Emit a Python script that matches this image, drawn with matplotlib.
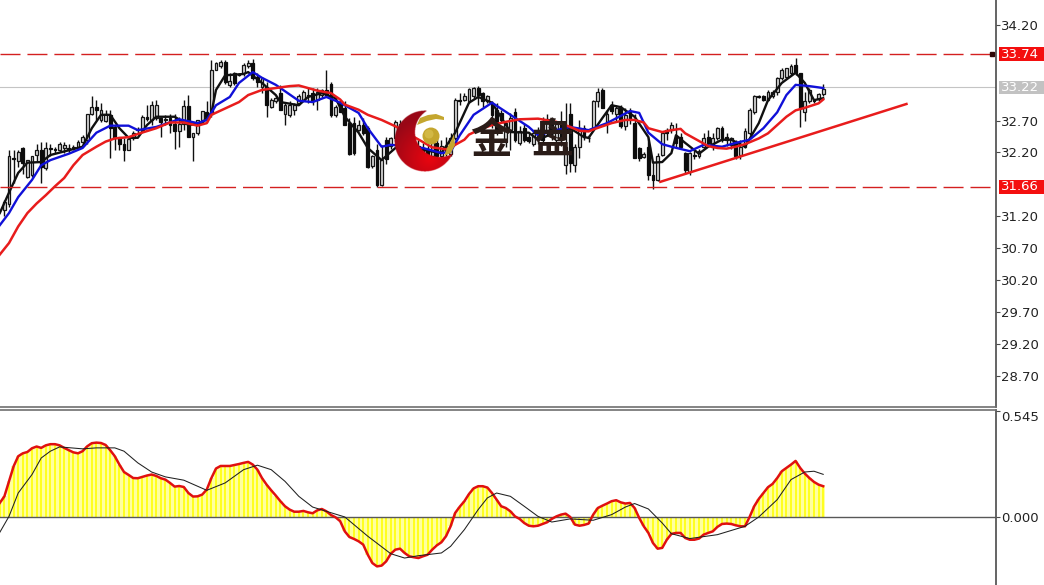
# Gold chart with moving averages and a MACD panel below it.

import matplotlib
matplotlib.use("Agg")
import matplotlib.pyplot as plt
import numpy as np
from matplotlib.patches import Circle, Polygon, Rectangle
from matplotlib.transforms import blended_transform_factory

WIDTH, HEIGHT = 1044, 585
AXIS_X = 996
BAR_PX = 4.6
FIRST_BAR_PX = 4.4

opens = [
    31.30, 31.40, 32.12, 32.06, 32.27, 31.82, 31.85, 32.16, 32.24, 31.95,
    32.27, 32.25, 32.24, 32.27, 32.27, 32.27, 32.29, 32.37, 32.40, 32.81,
    32.91, 32.71, 32.70, 32.79, 32.60, 32.44, 32.34, 32.24, 32.42, 32.55,
    32.55, 32.76, 32.71, 32.74, 32.74, 32.71, 32.74, 32.65, 32.53, 32.65,
    32.93, 32.44, 32.50, 32.71, 32.84, 32.81, 33.49, 33.55, 33.62, 33.26,
    33.44, 33.43, 33.44, 33.55, 33.61, 33.39, 33.23, 33.23, 32.92, 33.00,
    33.13, 32.81, 32.79, 32.87, 32.97, 33.02, 33.10, 33.13, 33.02, 33.10,
    33.18, 33.28, 32.79, 32.97, 32.89, 32.66, 32.66, 32.55, 32.63, 32.58,
    31.99, 32.24, 31.69, 32.40, 32.30, 32.42, 32.65, 32.30, 32.45, 32.15,
    32.30, 32.10, 32.25, 32.15, 32.35, 32.15, 32.30, 32.18, 32.42, 33.02,
    33.02, 33.00, 33.08, 33.21, 33.13, 33.00, 32.97, 32.87, 32.82, 32.37,
    32.55, 32.84, 32.35, 32.58, 32.45, 32.33, 32.40, 32.70, 32.52, 32.70,
    32.40, 32.70, 32.00,
    32.81, 32.00, 32.29, 32.58, 32.43, 32.58, 33.00, 33.18, 32.68, 32.95,
    32.80, 32.89, 32.61, 32.85, 32.66, 32.27, 32.13, 32.29, 31.85, 31.77,
    32.16, 32.55, 32.55, 32.45, 32.45, 32.19, 31.90, 32.16, 32.15, 32.29,
    32.45, 32.29, 32.42, 32.58, 32.45, 32.32, 32.35, 32.16, 32.29, 32.50,
    32.84, 33.09, 33.08, 33.02, 33.08, 33.15, 33.36, 33.39, 33.44, 33.57,
    33.44, 32.84, 33.00, 33.02, 33.04, 33.12,
]
closes = [
    31.43, 32.14, 32.10, 32.21, 32.03, 32.08, 32.14, 32.24, 31.98, 32.27,
    32.25, 32.24, 32.33, 32.32, 32.24, 32.29, 32.37, 32.44, 32.81, 32.92,
    32.87, 32.87, 32.81, 32.58, 32.43, 32.34, 32.24, 32.41, 32.50, 32.56,
    32.76, 32.72, 32.95, 32.95, 32.68, 32.72, 32.63, 32.53, 32.65, 32.93,
    32.44, 32.50, 32.71, 32.85, 32.76, 33.49, 33.60, 33.62, 33.31, 33.32,
    33.29, 33.42, 33.57, 33.60, 33.36, 33.31, 33.36, 32.94, 33.02, 33.06,
    32.87, 32.95, 32.95, 32.95, 33.08, 33.15, 33.08, 33.00, 33.15, 33.18,
    33.10, 32.79, 32.92, 32.84, 32.63, 32.18, 32.19, 32.63, 32.50, 31.98,
    32.14, 31.69, 32.08, 32.10, 32.42, 32.68, 32.42, 32.55, 32.20, 32.35,
    32.10, 32.25, 32.15, 32.40, 32.15, 32.30, 32.20, 32.42, 33.02, 33.00,
    33.08, 33.19, 33.21, 33.10, 33.00, 33.08, 32.79, 32.53, 32.71, 32.66,
    32.74, 32.40, 32.53, 32.40, 32.38, 32.50, 32.55, 32.40, 32.72, 32.50,
    32.65, 32.40, 32.29,
    32.03, 32.29, 32.58, 32.45, 32.42, 33.00, 33.15, 32.89, 32.81, 32.85,
    32.90, 32.61, 32.79, 32.72, 32.11, 32.11, 32.18, 31.85, 31.77, 32.14,
    32.51, 32.50, 32.63, 32.35, 32.29, 31.93, 32.19, 32.15, 32.22, 32.42,
    32.35, 32.42, 32.58, 32.40, 32.40, 32.42, 32.14, 32.29, 32.53, 32.87,
    33.08, 33.07, 33.03, 33.15, 33.15, 33.36, 33.49, 33.52, 33.55, 33.44,
    32.89, 33.00, 33.18, 33.00, 33.12, 33.20,
]
highs = [
    31.46, 32.24, 32.24, 32.24, 32.29, 32.08, 32.14, 32.34, 32.37, 32.37,
    32.34, 32.29, 32.37, 32.37, 32.34, 32.32, 32.40, 32.47, 32.81, 33.08,
    33.03, 32.97, 32.87, 32.87, 32.63, 32.45, 32.42, 32.42, 32.53, 32.60,
    32.79, 32.95, 33.00, 33.02, 32.76, 32.79, 32.81, 32.81, 32.76, 33.02,
    33.10, 32.50, 32.71, 32.85, 33.00, 33.65, 33.62, 33.65, 33.65, 33.44,
    33.46, 33.45, 33.60, 33.65, 33.66, 33.44, 33.39, 33.31, 33.05, 33.08,
    33.26, 32.97, 33.00, 32.97, 33.11, 33.18, 33.21, 33.21, 33.21, 33.19,
    33.50, 33.31, 32.95, 33.02, 33.00, 32.74, 32.76, 32.71, 32.74, 32.61,
    32.16, 32.34, 32.32, 32.45, 32.45, 32.71, 32.71, 32.60, 32.55, 32.45,
    32.40, 32.35, 32.40, 32.50, 32.45, 32.40, 32.45, 32.50, 33.05, 33.13,
    33.13, 33.21, 33.23, 33.24, 33.15, 33.10, 33.00, 32.97, 32.87, 32.66,
    32.82, 32.90, 32.61, 32.65, 32.50, 32.55, 32.60, 32.75, 32.80, 32.75,
    32.70, 32.85, 32.97,
    32.97, 32.34, 32.71, 32.63, 32.47, 33.02, 33.21, 33.21, 32.87, 33.00,
    32.95, 32.94, 32.89, 32.90, 32.81, 32.29, 32.20, 32.45, 32.06, 32.19,
    32.53, 32.58, 32.68, 32.66, 32.50, 32.21, 32.21, 32.24, 32.25, 32.50,
    32.55, 32.50, 32.60, 32.61, 32.50, 32.45, 32.40, 32.40, 32.58, 32.89,
    33.10, 33.10, 33.10, 33.18, 33.18, 33.39, 33.52, 33.52, 33.59, 33.68,
    33.44, 33.15, 33.21, 33.03, 33.13, 33.27,
]
lows = [
    31.20, 31.35, 31.72, 31.98, 31.87, 31.80, 31.82, 32.06, 31.72, 31.93,
    32.14, 32.19, 32.21, 32.19, 32.19, 32.24, 32.27, 32.34, 32.34, 32.79,
    32.71, 32.68, 32.68, 32.11, 32.24, 32.24, 32.07, 32.24, 32.40, 32.50,
    32.53, 32.70, 32.63, 32.71, 32.45, 32.63, 32.50, 32.26, 32.29, 32.55,
    32.44, 32.07, 32.47, 32.68, 32.68, 32.76, 33.49, 33.52, 33.28, 33.23,
    33.26, 33.40, 33.40, 33.52, 33.34, 33.23, 33.13, 32.76, 32.90, 32.98,
    32.87, 32.63, 32.76, 32.79, 32.95, 33.00, 32.97, 32.95, 32.87, 33.05,
    33.10, 32.76, 32.76, 32.84, 32.63, 32.16, 32.16, 32.53, 32.47, 31.95,
    31.95, 31.66, 31.67, 32.02, 32.26, 32.40, 32.30, 32.20, 32.10, 32.05,
    32.00, 32.00, 32.05, 32.10, 32.05, 32.10, 32.15, 32.14, 32.40, 32.95,
    33.00, 32.97, 33.05, 32.95, 32.92, 32.97, 32.58, 32.48, 32.66, 32.29,
    32.24, 32.37, 32.32, 32.37, 32.35, 32.30, 32.34, 32.35, 32.48, 32.40,
    32.30, 32.30, 31.87,
    31.90, 31.90, 32.11, 32.40, 32.37, 32.55, 32.92, 32.89, 32.50, 32.80,
    32.70, 32.58, 32.55, 32.65, 32.11, 32.06, 32.11, 31.77, 31.62, 31.75,
    32.14, 32.40, 32.50, 32.29, 32.25, 31.87, 31.85, 32.10, 32.12, 32.27,
    32.29, 32.24, 32.40, 32.37, 32.30, 32.25, 32.10, 32.09, 32.27, 32.48,
    32.81, 33.06, 33.00, 33.00, 33.05, 33.10, 33.34, 33.36, 33.42, 33.42,
    32.60, 32.70, 32.97, 32.98, 33.01, 33.09,
]

# Moving averages, read at the bars where the line bends
fast_bars = [-1, 1, 3, 5, 8, 10, 17, 19, 21, 23, 25, 27, 29, 31, 33, 37, 40, 43, 45, 46, 48, 52, 53,
             56, 59, 60, 64, 66, 69, 72, 74, 77, 79, 82, 85, 91, 95, 98, 101, 103, 106, 110, 114, 116,
             120, 123, 126, 127, 130, 132, 134, 137, 140, 141, 143, 145, 146, 148, 151, 153, 156, 158,
             161, 164, 166, 169, 172, 174, 176, 178]
fast_ma = [31.25, 31.57, 31.88, 32.04, 32.05, 32.16, 32.29, 32.58, 32.79, 32.79, 32.58, 32.43, 32.43,
           32.63, 32.76, 32.76, 32.63, 32.66, 32.82, 33.18, 33.41, 33.43, 33.46, 33.29, 33.10, 32.99,
           32.94, 33.07, 33.13, 33.05, 32.76, 32.51, 32.27, 32.08, 32.27, 32.24, 32.19, 32.51, 32.98,
           33.07, 32.98, 32.52, 32.51, 32.40, 32.52, 32.58, 32.44, 32.43, 32.74, 32.94, 32.91, 32.76,
           32.44, 32.04, 32.05, 32.19, 32.47, 32.35, 32.18, 32.29, 32.40, 32.40, 32.29, 32.66, 33.02,
           33.29, 33.45, 33.29, 33.02, 33.05]

mid_bars = [-1, 1, 3, 6, 8, 10, 14, 17, 20, 23, 27, 29, 33, 38, 42, 44, 46, 49, 51, 54, 56, 59, 64, 67,
            70, 73, 77, 79, 82, 84, 91, 95, 97, 99, 102, 106, 110, 114, 116, 120, 123, 127, 131, 136,
            138, 140, 143, 145, 149, 152, 156, 159, 162, 165, 168, 170, 172, 175, 178]
mid_ma = [31.06, 31.25, 31.50, 31.77, 32.00, 32.08, 32.18, 32.27, 32.51, 32.62, 32.62, 32.55, 32.60,
          32.72, 32.66, 32.71, 32.94, 33.07, 33.29, 33.46, 33.37, 33.26, 33.01, 32.99, 33.07, 32.98,
          32.82, 32.58, 32.29, 32.32, 32.27, 32.19, 32.21, 32.47, 32.79, 32.98, 32.79, 32.60, 32.47,
          32.55, 32.60, 32.55, 32.66, 32.85, 32.82, 32.51, 32.33, 32.29, 32.22, 32.32, 32.29, 32.35,
          32.40, 32.58, 32.83, 33.10, 33.26, 33.24, 33.21]

slow_bars = [-1, 1, 3, 5, 7, 9, 11, 13, 15, 17, 20, 22, 24, 27, 29, 33, 36, 39, 42, 44,
             45, 48, 51, 53, 56, 60, 62, 64, 66, 68, 71, 73, 74, 77, 79, 82, 85, 93, 96, 97,
             98, 100, 101, 103, 106, 109, 112, 116, 120, 123, 125, 127, 128, 130, 132, 135, 137, 139, 140, 143,
             145, 147, 148, 151, 153, 155, 157, 159, 161, 164, 166, 168, 170, 172, 174, 177, 178]
slow_ma = [30.60, 30.78, 31.04, 31.25, 31.40, 31.53, 31.67, 31.80, 32.00, 32.16,
           32.29, 32.37, 32.42, 32.44, 32.49, 32.58, 32.67, 32.67, 32.62, 32.66,
           32.79, 32.89, 32.99, 33.10, 33.18, 33.22, 33.24, 33.25, 33.21, 33.17,
           33.13, 33.03, 32.95, 32.87, 32.79, 32.71, 32.61, 32.28, 32.25, 32.27,
           32.32, 32.40, 32.48, 32.55, 32.63, 32.68, 32.72, 32.73, 32.68, 32.60,
           32.54, 32.53, 32.56, 32.61, 32.66, 32.71, 32.71, 32.67, 32.58, 32.52,
           32.55, 32.57, 32.50, 32.38, 32.30, 32.27, 32.26, 32.29, 32.33, 32.42,
           32.50, 32.63, 32.76, 32.86, 32.90, 32.97, 33.03]

trend_bars = [142.6, 196.1]
trend_prices = [31.74, 32.96]

upper_level = 33.74
lower_level = 31.66
last_price = 33.22

# first value belongs to the bar cut off at the left edge
macd = [
    0.072,
    0.106, 0.183, 0.260, 0.312, 0.327, 0.334, 0.353, 0.362, 0.355, 0.368,
    0.374, 0.374, 0.368, 0.355, 0.343, 0.332, 0.327, 0.338, 0.363, 0.379,
    0.382, 0.380, 0.370, 0.343, 0.312, 0.269, 0.231, 0.216, 0.200, 0.199,
    0.206, 0.213, 0.218, 0.211, 0.199, 0.192, 0.175, 0.156, 0.159, 0.154,
    0.123, 0.105, 0.106, 0.115, 0.141, 0.200, 0.249, 0.262, 0.262, 0.262,
    0.267, 0.272, 0.278, 0.283, 0.269, 0.243, 0.200, 0.166, 0.137, 0.110,
    0.081, 0.055, 0.038, 0.027, 0.027, 0.031, 0.024, 0.019, 0.034, 0.041,
    0.029, 0.010, -0.002, -0.022, -0.074, -0.103, -0.113, -0.125, -0.142, -0.194,
    -0.237, -0.254, -0.250, -0.228, -0.189, -0.168, -0.163, -0.185, -0.202, -0.207,
    -0.211, -0.202, -0.194, -0.168, -0.146, -0.130, -0.099, -0.048, 0.021, 0.053,
    0.081, 0.118, 0.147, 0.158, 0.158, 0.151, 0.123, 0.089, 0.055, 0.046,
    0.029, 0.003, -0.010, -0.031, -0.045, -0.048, -0.045, -0.036, -0.027, -0.010,
    0.003, 0.012, 0.017, 0.000, -0.039, -0.045, -0.041, -0.034, 0.012, 0.046,
    0.058, 0.069, 0.081, 0.086, 0.075, 0.069, 0.072, 0.046, -0.005, -0.048,
    -0.082, -0.134, -0.163, -0.159, -0.117, -0.087, -0.082, -0.082, -0.108, -0.117,
    -0.117, -0.111, -0.091, -0.082, -0.074, -0.051, -0.036, -0.034, -0.036, -0.043,
    -0.048, -0.048, 0.000, 0.055, 0.093, 0.123, 0.153, 0.170, 0.200, 0.235,
    0.252, 0.269, 0.288, 0.252, 0.223, 0.200, 0.180, 0.166, 0.158,
]
signal_bars = [-1, 1, 3, 6, 8, 10, 12, 17, 20, 24, 26, 29, 32, 35, 39, 44, 48, 52, 55, 58, 61, 64, 67,
               70, 74, 79, 84, 87, 90, 95, 97, 100, 103, 105, 107, 110, 113, 116, 119, 123, 128, 132,
               135, 137, 140, 143, 145, 149, 155, 161, 164, 168, 171, 174, 176, 178]
signal = [-0.079, 0.003, 0.123, 0.218, 0.303, 0.338, 0.360, 0.350, 0.355, 0.355, 0.338, 0.278, 0.231,
          0.206, 0.189, 0.137, 0.175, 0.243, 0.266, 0.243, 0.183, 0.106, 0.051, 0.029, 0.000, -0.099,
          -0.189, -0.211, -0.199, -0.185, -0.151, -0.065, 0.038, 0.098, 0.123, 0.106, 0.055, 0.003,
          -0.026, -0.010, -0.017, 0.012, 0.051, 0.069, 0.041, -0.031, -0.086, -0.111, -0.091, -0.048,
          0.000, 0.089, 0.192, 0.231, 0.235, 0.219]

price_ticks = [34.20, 32.70, 32.20, 31.20, 30.70, 30.20, 29.70, 29.20, 28.70]
macd_ticks = [0.545, 0.0]

CJK = ["Noto Sans CJK SC", "DejaVu Sans"]
RED = "#e81c1c"
DASH_RED = "#d42020"
AXIS_GREY = "#4a4a4a"


def px_axes(fig, left, top, right, bottom):
    return fig.add_axes([left / WIDTH, 1 - bottom / HEIGHT, (right - left) / WIDTH, (bottom - top) / HEIGHT])


def bar_limits():
    return (0 - FIRST_BAR_PX) / BAR_PX, (AXIS_X - FIRST_BAR_PX) / BAR_PX


def style_axis(ax):
    for side in ("top", "left"):
        ax.spines[side].set_visible(False)
    ax.spines["right"].set_color(AXIS_GREY)
    ax.spines["right"].set_linewidth(1.2)
    ax.spines["bottom"].set_color("#707070")
    ax.spines["bottom"].set_linewidth(1.2)
    ax.set_xlim(*bar_limits())
    ax.set_xticks([])
    ax.yaxis.tick_right()
    ax.tick_params(axis="y", length=3, width=0.8, color=AXIS_GREY, labelsize=9.5, labelcolor="#222222", pad=0.5)


def draw_candles(ax):
    idx = np.arange(len(opens))
    o, c = np.array(opens), np.array(closes)
    ax.vlines(idx, lows, highs, color="#101010", linewidth=1.0, zorder=2)
    up = c >= o
    ax.bar(idx[up], (c - o)[up], bottom=o[up], width=0.62, facecolor="#d8d8d8",
           edgecolor="#151515", linewidth=0.9, zorder=3)
    ax.bar(idx[~up], (o - c)[~up], bottom=c[~up], width=0.62, facecolor="#0c0c0c",
           edgecolor="#0c0c0c", linewidth=0.9, zorder=3)


def price_tag(ax, value, color):
    trans = blended_transform_factory(ax.transAxes, ax.transData)
    tag_left = 1 + 3 / AXIS_X
    tag_width = 48 / AXIS_X
    tag_height = 13.5 * (ax.get_ylim()[1] - ax.get_ylim()[0]) / 407
    ax.add_patch(Rectangle((tag_left, value - tag_height / 2), tag_width, tag_height, transform=trans,
                           facecolor=color, edgecolor="none", clip_on=False, zorder=6))
    ax.text(1 + 5 / AXIS_X, value, f"{value:.2f}", transform=trans, color="white", fontsize=9.5,
            va="center", ha="left", clip_on=False, zorder=7)


def draw_logo(fig):
    ax = fig.add_axes([0, 0, 1, 1], zorder=10)
    ax.axis("off")
    ax.patch.set_alpha(0)

    # red crescent, transparent in its mouth so the chart shows through
    xs = np.linspace(390, 460, 280)
    ys = np.linspace(105, 177, 288)
    xx, yy = np.meshgrid(xs, ys)
    crescent = ((xx - 425) ** 2 + (yy - 141) ** 2 <= 30.5 ** 2) & ((xx - 440) ** 2 + (yy - 132) ** 2 >= 25 ** 2)
    t = np.clip(np.hypot(xx - 430, yy - 158) / 42, 0, 1)[..., None]
    rgb = (1 - t) * np.array([0.92, 0.02, 0.06]) + t * np.array([0.60, 0.03, 0.09])
    rgba = np.dstack([rgb, crescent.astype(float)])
    ax.imshow(rgba, extent=(390, 460, 177, 105), interpolation="bilinear", aspect="auto", zorder=1)
    ax.set_xlim(0, WIDTH)
    ax.set_ylim(HEIGHT, 0)

    ax.add_patch(Circle((431, 136), 8.5, facecolor="#c4a62e", edgecolor="none", zorder=2))
    ax.add_patch(Circle((429, 134), 4.5, facecolor="#d8c050", edgecolor="none", alpha=0.7, zorder=3))
    ax.add_patch(Polygon([(417, 125), (420, 118), (428, 115), (436, 114), (444, 117), (444, 120), (436, 119), (427, 121)],
                         facecolor="#c4a62e", edgecolor="none", zorder=2))
    ax.add_patch(Polygon([(444, 156), (447, 148), (451, 141), (454, 134), (455, 145), (451, 153)],
                         facecolor="#c4a62e", edgecolor="none", zorder=2))

    ax.text(491, 141, "金", family=CJK, fontsize=30, fontweight="bold", color="#2a1c18",
            ha="center", va="center", zorder=4)
    ax.text(552, 141, "盘", family=CJK, fontsize=30, fontweight="bold", color="#2a1c18",
            ha="center", va="center", zorder=4)


def main():
    fig = plt.figure(figsize=(WIDTH / 100, HEIGHT / 100), dpi=100, facecolor="white")

    ax = px_axes(fig, 0, 0, AXIS_X, 407)
    style_axis(ax)
    ax.set_ylim(28.21, 34.59)
    ax.set_yticks(price_ticks)
    ax.set_yticklabels([f"{v:.2f}" for v in price_ticks])

    ax.axhline(last_price, color="#c4c4c4", linewidth=0.8, zorder=1)
    draw_candles(ax)
    ax.plot(fast_bars, fast_ma, color="#101010", linewidth=1.7, solid_joinstyle="round", zorder=4)
    ax.plot(mid_bars, mid_ma, color="#1010d8", linewidth=1.7, solid_joinstyle="round", zorder=4)
    ax.plot(slow_bars, slow_ma, color=RED, linewidth=1.8, solid_joinstyle="round", zorder=5)
    ax.plot(trend_bars, trend_prices, color=RED, linewidth=1.8, zorder=5)
    for level in (upper_level, lower_level):
        ax.axhline(level, color=DASH_RED, linewidth=1.0, dashes=(14.4, 5), zorder=5)
    ax.plot([(AXIS_X - 4 - FIRST_BAR_PX) / BAR_PX], [upper_level], marker="s", markersize=3,
            color="#300808", zorder=6)
    price_tag(ax, upper_level, "#f40f0f")
    price_tag(ax, last_price, "#c2c2c2")
    price_tag(ax, lower_level, "#f40f0f")

    sub = px_axes(fig, 0, 410, AXIS_X, 585)
    style_axis(sub)
    sub.spines["bottom"].set_visible(False)
    sub.spines["top"].set_visible(True)
    sub.spines["top"].set_color("#707070")
    sub.spines["top"].set_linewidth(1.2)
    sub.set_ylim(-0.3496, 0.5496)
    sub.set_yticks(macd_ticks)
    sub.set_yticklabels([f"{v:.3f}" for v in macd_ticks])
    sub.get_yticklabels()[0].set_verticalalignment("top")

    macd_idx = np.arange(len(macd)) - 1
    sub.bar(macd_idx, macd, width=1.0, color="#ffffa0", linewidth=0, zorder=2)
    sub.bar(macd_idx, macd, width=0.45, color="#ffff20", linewidth=0, zorder=2)
    sub.axhline(0, color="#585858", linewidth=1.0, zorder=3)
    sub.plot(macd_idx, macd, color="#e01010", linewidth=1.8, solid_joinstyle="round", zorder=4)
    sub.plot(signal_bars, signal, color="#202020", linewidth=0.75, zorder=5)

    draw_logo(fig)
    fig.savefig("out.png", dpi=100, facecolor="white")
    plt.close(fig)


if __name__ == "__main__":
    main()
